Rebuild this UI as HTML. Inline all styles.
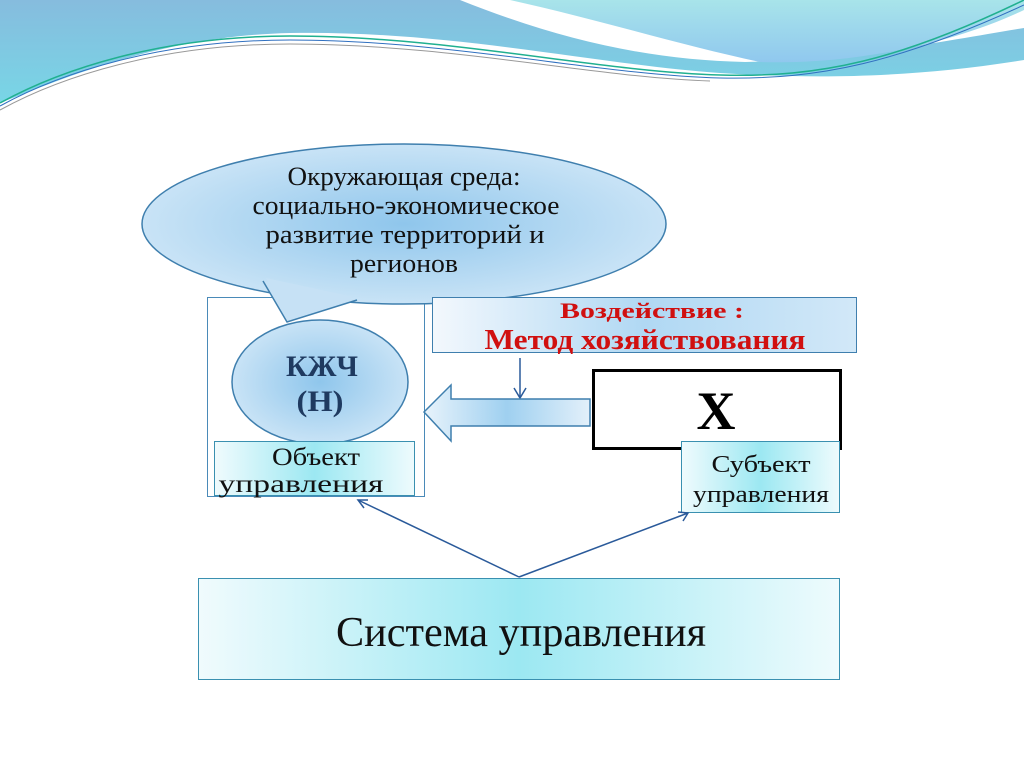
<!DOCTYPE html>
<html><head><meta charset="utf-8"><style>
html,body{margin:0;padding:0;background:#fff;}
svg{display:block;}
text{font-family:"Liberation Serif",serif;}
</style></head><body>
<svg width="1024" height="767" viewBox="0 0 1024 767" xmlns="http://www.w3.org/2000/svg">
<defs>
<linearGradient id="topL" x1="0" y1="0" x2="0" y2="1"><stop offset="0" stop-color="#86bcde"/><stop offset="1" stop-color="#78d6e6"/></linearGradient>
<linearGradient id="topR" x1="0" y1="0" x2="0" y2="1"><stop offset="0" stop-color="#a8e4ea"/><stop offset="1" stop-color="#90c8ee"/></linearGradient>
<radialGradient id="blu" cx="0.5" cy="0.5" r="0.6"><stop offset="0" stop-color="#8fc6ec"/><stop offset="1" stop-color="#d4e9f8"/></radialGradient>
<linearGradient id="bluH" x1="0" y1="0" x2="1" y2="0"><stop offset="0" stop-color="#e8f3fb"/><stop offset="0.5" stop-color="#9fd0f0"/><stop offset="1" stop-color="#e3f0fa"/></linearGradient>
<linearGradient id="cyan" x1="0" y1="0" x2="1" y2="0"><stop offset="0" stop-color="#f0fbfd"/><stop offset="0.5" stop-color="#9ce8f2"/><stop offset="1" stop-color="#eefbfd"/></linearGradient>
<linearGradient id="bluBox" x1="0" y1="0" x2="1" y2="0"><stop offset="0" stop-color="#f3f8fd"/><stop offset="0.5" stop-color="#b0d8f3"/><stop offset="1" stop-color="#d2e8f8"/></linearGradient>
</defs>
<!-- top waves -->
<path d="M0,0 H460 C560,40 650,60 745,62 C850,60 950,40 1024,28 V60 C900,80 800,78 720,73 C600,65 450,30 290,33 C160,36 60,80 0,103 Z" fill="url(#topL)"/>
<path d="M510,0 H1024 V10 C950,45 850,65 760,62 C680,45 600,20 510,0 Z" fill="url(#topR)"/>
<path d="M0,103 C60,70 160,36 290,36 C450,36 600,72 720,75 C820,78 900,60 1024,0" fill="none" stroke="#20b090" stroke-width="1.5"/>
<path d="M0,106 C60,73 160,40 290,40 C450,40 600,75 720,78 C820,80 900,62 1024,5" fill="none" stroke="#3070c0" stroke-width="1"/>
<path d="M0,110 C60,77 160,44 290,44 C450,44 600,78 710,81" fill="none" stroke="#999" stroke-width="1"/>
<!-- outer rect -->
<rect x="207.5" y="297.5" width="217" height="199" fill="#fff" stroke="#4a8ab8" stroke-width="1"/>
<!-- callout -->
<ellipse cx="404" cy="224" rx="262" ry="80" fill="url(#blu)" stroke="#3f7fae" stroke-width="1.5"/>
<path d="M263,281 L287,322 L357,300" fill="#c6e1f5" stroke="#3f7fae" stroke-width="1.5"/>
<path d="M266,278 L289,318 L354,297 Z" fill="#c6e1f5"/>
<text x="404" y="185" font-size="26" text-anchor="middle" fill="#111" textLength="233" lengthAdjust="spacingAndGlyphs">Окружающая среда:</text>
<text x="406" y="214" font-size="26" text-anchor="middle" fill="#111" textLength="307" lengthAdjust="spacingAndGlyphs">социально-экономическое</text>
<text x="405" y="243" font-size="26" text-anchor="middle" fill="#111" textLength="279" lengthAdjust="spacingAndGlyphs">развитие территорий и</text>
<text x="404" y="272" font-size="26" text-anchor="middle" fill="#111" textLength="108" lengthAdjust="spacingAndGlyphs">регионов</text>
<!-- circle -->
<ellipse cx="320" cy="382" rx="88" ry="62" fill="url(#blu)" stroke="#3f7fae" stroke-width="1.5"/>
<text x="322" y="376" font-size="30" font-weight="bold" text-anchor="middle" fill="#1f3a60" textLength="72" lengthAdjust="spacingAndGlyphs">КЖЧ</text>
<text x="320" y="411" font-size="30" font-weight="bold" text-anchor="middle" fill="#1f3a60" textLength="47" lengthAdjust="spacingAndGlyphs">(Н)</text>
<!-- object box -->
<rect x="214.5" y="441.5" width="200" height="54" fill="url(#cyan)" stroke="#3a90b0" stroke-width="1"/>
<text x="316" y="465" font-size="25" text-anchor="middle" fill="#111" textLength="88" lengthAdjust="spacingAndGlyphs">Объект</text>
<text x="301" y="492" font-size="25" text-anchor="middle" fill="#111" textLength="165" lengthAdjust="spacingAndGlyphs">управления</text>
<!-- method box -->
<rect x="432.5" y="297.5" width="424" height="55" fill="url(#bluBox)" stroke="#3f7fae" stroke-width="1"/>
<text x="652" y="318" font-size="22" font-weight="bold" text-anchor="middle" fill="#d01010" textLength="184" lengthAdjust="spacingAndGlyphs">Воздействие :</text>
<text x="645" y="349" font-size="28" font-weight="bold" text-anchor="middle" fill="#d01010" textLength="321" lengthAdjust="spacingAndGlyphs">Метод хозяйствования</text>
<!-- small down arrow -->
<line x1="520" y1="358" x2="520" y2="397" stroke="#2a5a9a" stroke-width="1.5"/>
<path d="M514,388 L520,398 L526,388" fill="none" stroke="#2a5a9a" stroke-width="1.5"/>
<!-- big left arrow -->
<path d="M424,412 L451,385 L451,399 L590,399 L590,426 L451,426 L451,441 Z" fill="url(#bluH)" stroke="#3f7fae" stroke-width="1.5"/>
<!-- X box -->
<rect x="593.5" y="370.5" width="247" height="78" fill="#fff" stroke="#000" stroke-width="3"/>
<text x="716" y="429" font-size="54" font-weight="bold" text-anchor="middle" fill="#000">Х</text>
<!-- subject box -->
<rect x="681.5" y="441.5" width="158" height="71" fill="url(#cyan)" stroke="#3a90b0" stroke-width="1"/>
<text x="761" y="472" font-size="24" text-anchor="middle" fill="#111" textLength="99" lengthAdjust="spacingAndGlyphs">Субъект</text>
<text x="761" y="502" font-size="24" text-anchor="middle" fill="#111" textLength="136" lengthAdjust="spacingAndGlyphs">управления</text>
<!-- system box -->
<rect x="198.5" y="578.5" width="641" height="101" fill="url(#cyan)" stroke="#3a90b0" stroke-width="1"/>
<text x="521" y="646" font-size="42" text-anchor="middle" fill="#111" textLength="370" lengthAdjust="spacingAndGlyphs">Система управления</text>
<!-- connectors -->
<g stroke="#2a5a9a" stroke-width="1.5" fill="none">
<line x1="519" y1="577" x2="358" y2="500"/>
<path d="M368,500 L358,500 L364,508"/>
<line x1="519" y1="577" x2="688" y2="513"/>
<path d="M678,512 L688,513 L683,521"/>
</g>
</svg>
</body></html>
